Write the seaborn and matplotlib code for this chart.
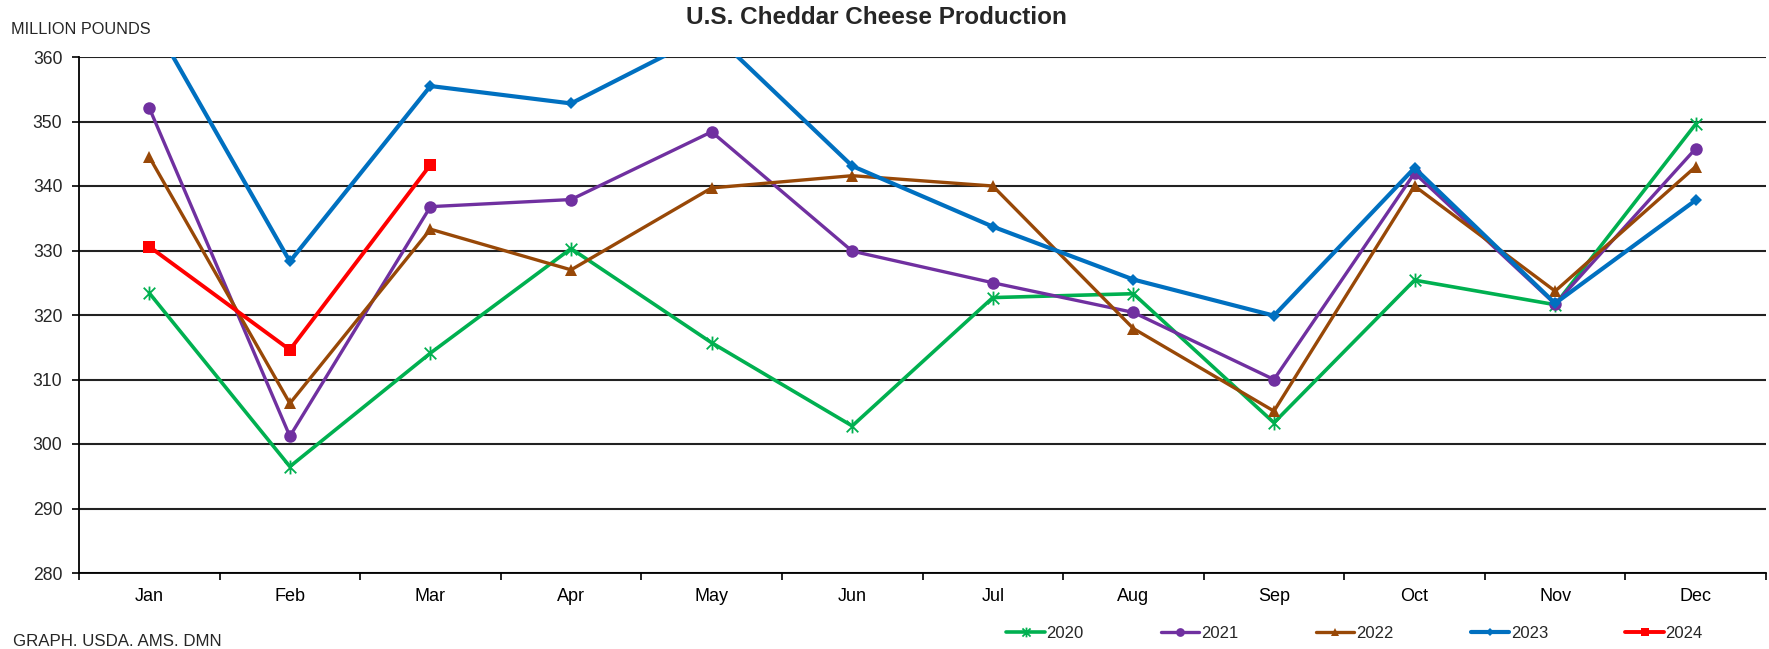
import numpy as np
import pandas as pd
import seaborn as sns
import matplotlib.pyplot as plt
from matplotlib.path import Path

months = ['Jan', 'Feb', 'Mar', 'Apr', 'May', 'Jun',
          'Jul', 'Aug', 'Sep', 'Oct', 'Nov', 'Dec']
years = ['2020', '2021', '2022', '2023', '2024']
prod_2020 = [323.4, 296.5, 314.1, 330.3, 315.7, 302.8, 322.7, 323.3, 303.3, 325.4, 321.6, 349.6]
prod_2021 = [352.1, 301.2, 336.8, 337.9, 348.4, 329.9, 325.0, 320.4, 310.0, 342.0, 321.7, 345.8]
prod_2022 = [344.5, 306.3, 333.3, 327.0, 339.7, 341.6, 340.0, 317.9, 305.1, 340.0, 323.7, 343.0]
prod_2023 = [366.5, 328.3, 355.5, 352.8, 363.9, 343.1, 333.7, 325.5, 319.9, 342.8, 321.8, 337.8]
prod_2024 = [330.6, 314.6, 343.3]
y_ticks = [280, 290, 300, 310, 320, 330, 340, 350, 360]

series = dict(zip(years, [prod_2020, prod_2021, prod_2022, prod_2023, prod_2024]))

# Excel "star" marker: an x with a vertical stroke through it
star = Path([(-1, -1), (1, 1), (-1, 1), (1, -1), (0, -1.2), (0, 1.2)],
            [Path.MOVETO, Path.LINETO, Path.MOVETO, Path.LINETO, Path.MOVETO, Path.LINETO])

styles = {
    '2020': dict(color='#00B050', marker=star, markersize=10, mew=1.3, lw=2.6),
    '2021': dict(color='#7030A0', marker='o', markersize=9, mew=0, lw=2.4),
    '2022': dict(color='#984807', marker='^', markersize=9, mew=0, lw=2.4),
    '2023': dict(color='#0070C0', marker='D', markersize=6.5, mew=0, lw=3.0),
    '2024': dict(color='#FF0000', marker='s', markersize=8.5, mew=0, lw=2.8),
}

sns.set_style('white')
plt.rcParams['font.family'] = ['Liberation Sans', 'DejaVu Sans']

fig = plt.figure(figsize=(17.69, 6.49), dpi=100)
ax = fig.add_axes([79 / 1769, 76 / 649, 1687 / 1769, 516 / 649])

for yr in years:
    vals = series[yr]
    df = pd.DataFrame({'month': np.arange(len(vals)), 'value': vals})
    st = styles[yr]
    sns.lineplot(data=df, x='month', y='value', ax=ax, color=st['color'],
                 linewidth=st['lw'], marker=st['marker'], markersize=st['markersize'],
                 markeredgecolor=st['color'], markeredgewidth=st['mew'],
                 label=yr, zorder=3)

ax.set_xlim(-0.5, 11.5)
ax.set_ylim(280, 360)
ax.set_yticks(y_ticks)
ax.set_xticks(range(12))
ax.set_xticklabels(months)
ax.set_xticks(np.arange(-0.5, 12, 1), minor=True)
ax.tick_params(axis='x', which='major', length=0, pad=11, labelsize=13, colors='black')
ax.tick_params(axis='x', which='minor', length=5, width=1.2, direction='out', color='black', bottom=True)
ax.tick_params(axis='y', length=5, width=1.2, direction='out', pad=7, labelsize=12.7,
               color='black', left=True)
ax.set_xlabel('')
ax.set_ylabel('')

ax.yaxis.grid(True, color='#222222', linewidth=1.5, zorder=1)
ax.xaxis.grid(False)
ax.set_axisbelow(True)
for side in ['top', 'right']:
    ax.spines[side].set_visible(False)
for side in ['left', 'bottom']:
    ax.spines[side].set_color('black')
    ax.spines[side].set_linewidth(1.3)

handles, labels = ax.get_legend_handles_labels()
ax.get_legend().remove()
fig.legend(handles, labels, ncol=5, loc='center left',
           bbox_to_anchor=(998 / 1769, 1 - 633 / 649), frameon=False,
           fontsize=12, handlelength=2.3, handletextpad=0.1,
           columnspacing=4.65, borderpad=0, markerscale=0.7)

fig.text(876 / 1769, 1 - 17 / 649, 'U.S. Cheddar Cheese Production',
         ha='center', va='center', fontsize=17.5, fontweight='bold')
fig.text(11 / 1769, 1 - 30 / 649, 'MILLION POUNDS', ha='left', va='center', fontsize=11.7)
fig.text(13 / 1769, 1 - 641 / 649, 'GRAPH. USDA. AMS. DMN', ha='left', va='center', fontsize=12.2)

fig.savefig('out.png', dpi=100)
